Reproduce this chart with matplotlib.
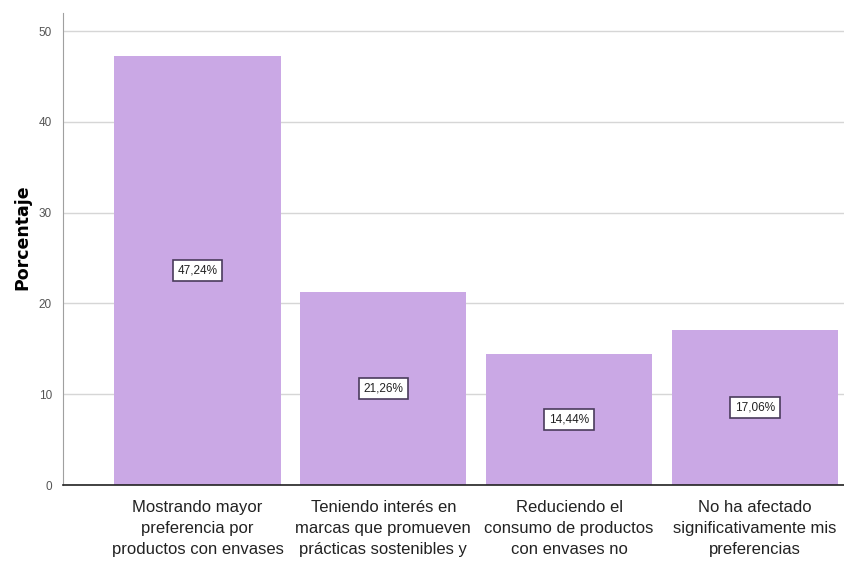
import matplotlib.pyplot as plt

categorias = [
    "Mostrando mayor\npreferencia por\nproductos con envases",
    "Teniendo interés en\nmarcas que promueven\nprácticas sostenibles y",
    "Reduciendo el\nconsumo de productos\ncon envases no",
    "No ha afectado\nsignificativamente mis\npreferencias",
]
porcentajes = [47.24, 21.26, 14.44, 17.06]
etiquetas = ["47,24%", "21,26%", "14,44%", "17,06%"]
yticks = [0, 10, 20, 30, 40, 50]

fuente = ["Liberation Sans", "DejaVu Sans"]


def main():
    fig = plt.figure(figsize=(8.44, 5.71), dpi=100)
    ax = fig.add_axes([63 / 844, 1 - 485 / 571, 1 - 63 / 844, (485 - 13) / 571])

    x = list(range(len(porcentajes)))
    ax.set_axisbelow(True)
    ax.yaxis.grid(True, color="#d6d6d6", linewidth=1.0)
    ax.bar(x, porcentajes, width=0.895, color="#caa8e5", edgecolor="none", zorder=2)

    for xi, v, t in zip(x, porcentajes, etiquetas):
        ax.text(xi, v / 2, t, ha="center", va="center", fontsize=8.5,
                family=fuente, color="#222222", zorder=3,
                bbox=dict(boxstyle="square,pad=0.4", facecolor="white",
                          edgecolor="#4a3b5c", linewidth=1.2))

    ax.set_xlim(-0.724, 3.48)
    ax.set_ylim(0, 52)
    ax.set_yticks(yticks)
    ax.set_yticklabels([str(t) for t in yticks], family=fuente, fontsize=8.5, color="#555555")
    ax.set_xticks(x)
    ax.set_xticklabels(categorias, family=fuente, fontsize=12, color="#222222",
                       linespacing=1.5)
    ax.tick_params(axis="y", length=0, pad=8)
    ax.tick_params(axis="x", length=0, pad=11)

    ax.spines["top"].set_visible(False)
    ax.spines["right"].set_visible(False)
    ax.spines["left"].set_color("#a0a0a0")
    ax.spines["bottom"].set_color("#222222")
    ax.spines["bottom"].set_linewidth(1.2)

    fig.text(22 / 844, 1 - 237 / 571, "Porcentaje", rotation=90, ha="center",
             va="center", fontsize=12.5, fontweight="bold", family="DejaVu Sans")

    fig.savefig("out.png", dpi=100, facecolor="white")


if __name__ == "__main__":
    main()
